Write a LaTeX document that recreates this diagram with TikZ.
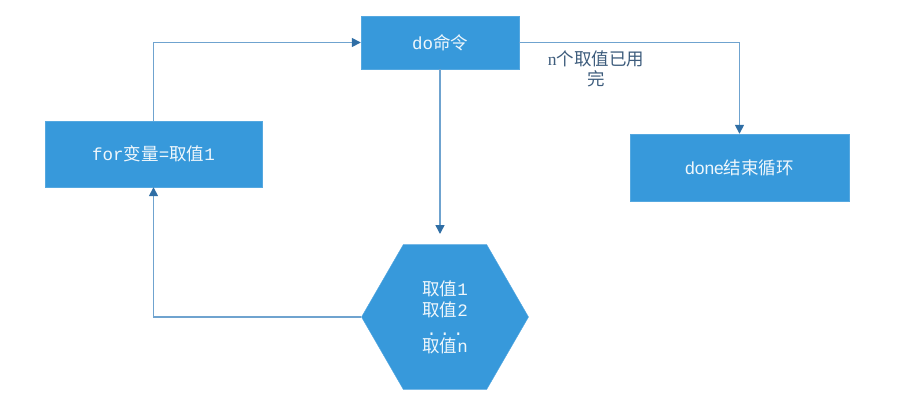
\documentclass[tikz,border=0pt]{standalone}
\usepackage{fontspec}
\usetikzlibrary{shapes.geometric,arrows.meta}
\newfontfamily\cjk{Noto Sans CJK SC}
\newfontfamily\lat{Liberation Mono}
\newfontfamily\latsans{Liberation Sans}
\newfontfamily\latserif{Liberation Serif}
\definecolor{boxblue}{HTML}{3799DB}
\definecolor{linec}{HTML}{6FA3CF}
\definecolor{tipc}{HTML}{2F6EA5}
\definecolor{labc}{HTML}{3D5C7C}
\begin{document}
\begin{tikzpicture}[x=1pt,y=-1pt,
  blk/.style={fill=boxblue, draw=boxblue!85!white, inner sep=0pt, text=white!92!boxblue,
    font=\fontsize{17.5}{21}\selectfont},
  conn/.style={draw=linec, line width=1.5pt,
    -{Triangle[length=9pt,width=9pt,color=tipc]}}]
\useasboundingbox (0,0) rectangle (918,418);
\node[blk, minimum width=158pt, minimum height=53pt] (do) at (440,42.5) {\lat do\cjk 命令};
\node[blk, minimum width=217pt, minimum height=66pt] (for) at (153.5,154) {\lat for\cjk 变量\lat =\cjk 取值\lat 1};
\node[blk, minimum width=219pt, minimum height=67pt] (done) at (739.5,167.5) {\latsans done\cjk 结束循环};
\node[blk, regular polygon, regular polygon sides=6, minimum size=167pt, align=center] (hex) at (445,317)
  {{\cjk 取值}{\lat 1}\\{\cjk 取值}{\lat 2}\\[-2pt]{\lat .\,.\,.}\\[-4pt]{\cjk 取值}{\lat n}};
\node[font=\fontsize{17.5}{20}\selectfont, text=labc, align=center] (lab) at (596,69)
  {{\latserif n}{\cjk 个取值已用}\\{\cjk 完}};
\coordinate (hextip) at (440,234);
\draw[conn] (for.north) |- (do.west);
\draw[conn] (do.east) -| (done.north);
\draw[conn] (do.south) -- (do.south |- hextip);
\draw[conn] (hex.west) -| (for.south);
\end{tikzpicture}
\end{document}
